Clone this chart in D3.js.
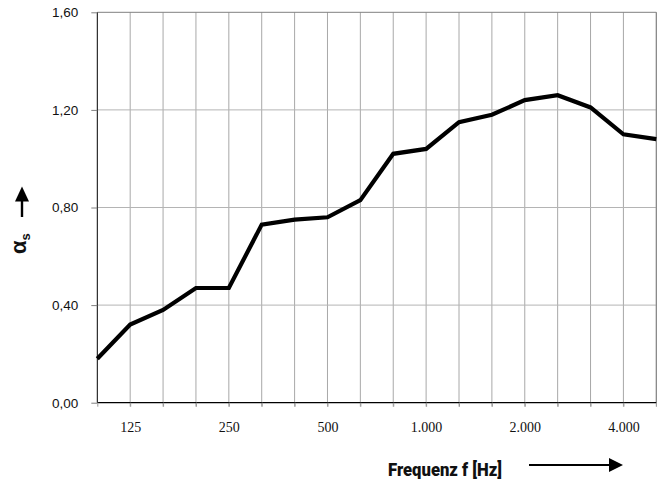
<!DOCTYPE html>
<html><head><meta charset="utf-8">
<script src="https://cdn.jsdelivr.net/npm/d3@7"></script>
<style>body{margin:0;background:#fff}</style>
</head><body>
<svg id="c" width="657" height="479"></svg>
<script>
const freqs = [100,125,160,200,250,315,400,500,630,800,1000,1250,1600,2000,2500,3150,4000,5000];
const alphaS = [0.18,0.32,0.38,0.47,0.47,0.73,0.75,0.76,0.83,1.02,1.04,1.15,1.18,1.24,1.26,1.21,1.10,1.08];
const xTickLabels = {125:"125",250:"250",500:"500",1000:"1.000",2000:"2.000",4000:"4.000"};
const yTicks = [0,0.4,0.8,1.2,1.6];

const svg = d3.select("#c");
const L=97.3, R=656.3, T=12.3, B=402.7;
const x = d3.scalePoint().domain(freqs).range([L,R]);
const y = d3.scaleLinear().domain([0,1.6]).range([B,T]);

// vertical grid
svg.append("g").selectAll("line").data(freqs.slice(1)).join("line")
  .attr("x1",d=>x(d)).attr("x2",d=>x(d)).attr("y1",T).attr("y2",B+4)
  .attr("stroke","#a8a8a8").attr("stroke-width",1);
// horizontal grid
svg.append("g").selectAll("line").data(yTicks.slice(1)).join("line")
  .attr("x1",L).attr("x2",R).attr("y1",d=>y(d)).attr("y2",d=>y(d))
  .attr("stroke",d=>d===1.6?"#808080":"#b4b4b4").attr("stroke-width",1);
// right border
svg.append("line").attr("x1",R).attr("x2",R).attr("y1",T).attr("y2",B).attr("stroke","#808080");

// y axis
const yAxis = d3.axisLeft(y).tickValues(yTicks).tickSize(6).tickPadding(13)
  .tickFormat(d=>d3.format(".2f")(d).replace(".",","));
const gy = svg.append("g").attr("transform",`translate(${L},0)`).call(yAxis);
gy.select(".domain").attr("stroke","#000").attr("d",`M0,${T}V${B}`);
gy.selectAll(".tick line").attr("stroke","#808080");
gy.selectAll("text").attr("font-family","Liberation Sans, Arial, sans-serif").attr("font-size","13.5px").attr("fill","#111");

// x axis
const xAxis = d3.axisBottom(x).tickValues(freqs).tickSize(4).tickPadding(15)
  .tickFormat(d=>xTickLabels[d]||"");
const gx = svg.append("g").attr("transform",`translate(0,${B})`).call(xAxis);
gx.select(".domain").attr("stroke","#000").attr("stroke-width",1.3).attr("d",`M${L},0H${R}`);
gx.selectAll(".tick line").attr("stroke","#999");
gx.selectAll("text").attr("font-family","Liberation Serif, Times New Roman, serif").attr("font-size","14px").attr("fill","#111");

// data line
svg.append("path").datum(freqs.map((f,i)=>[f,alphaS[i]]))
  .attr("fill","none").attr("stroke","#000").attr("stroke-width",4.2).attr("stroke-linejoin","miter")
  .attr("d",d3.line().x(d=>x(d[0])).y(d=>y(d[1])));

// x title (narrowed via horizontal scale)
const xt = svg.append("text")
  .attr("font-family","Roboto, Liberation Sans, sans-serif")
  .attr("font-weight","900").attr("font-size","19px").attr("fill","#111")
  .text("Frequenz f [Hz]");
const w = xt.node().getComputedTextLength();
xt.attr("transform",`translate(388,476) scale(${114/w},1)`);
svg.append("line").attr("x1",529).attr("x2",611).attr("y1",465).attr("y2",465).attr("stroke","#000").attr("stroke-width",2.2);
svg.append("path").attr("d","M623,465L609,458L609,472Z").attr("fill","#000");

// y title
const yt = svg.append("text").attr("transform","translate(26,254) rotate(-90)")
  .attr("font-family","Liberation Sans, Arial, sans-serif").attr("font-weight","bold").attr("fill","#111");
yt.append("tspan").attr("font-size","22px").text("α");
yt.append("tspan").attr("font-size","13px").attr("dy",4).text("s");
svg.append("line").attr("x1",22).attr("x2",22).attr("y1",217).attr("y2",199).attr("stroke","#000").attr("stroke-width",2.4);
svg.append("path").attr("d","M22,186.5L15,201.5L29,201.5Z").attr("fill","#000");
</script>
</body></html>
